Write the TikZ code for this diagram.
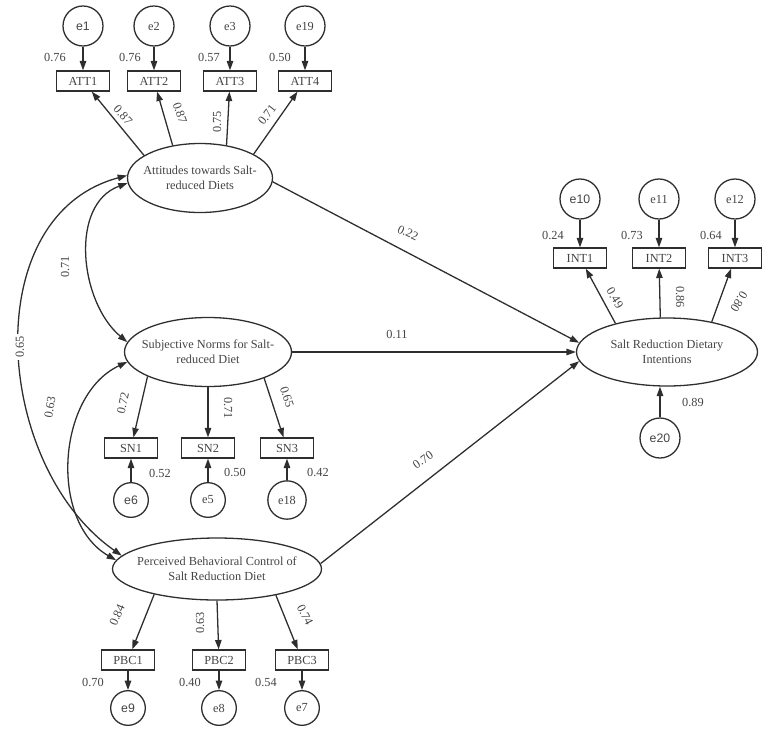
\documentclass[tikz,border=0pt]{standalone}
\usepackage{fontspec}
\setmainfont{Liberation Serif}
\newfontfamily\arialfont{Liberation Sans}
\usetikzlibrary{shapes.geometric,arrows.meta}
\definecolor{linegray}{HTML}{2E2E2E}
\definecolor{txtgray}{HTML}{444444}

\begin{document}
\begin{tikzpicture}[x=0.03cm, y=-0.03cm, line width=1.1pt, color=linegray, text=txtgray,
                    font=\fontsize{10.5}{12.5}\selectfont]
  \tikzset{
    latent/.style={ellipse, draw, inner sep=0pt},
    lat text/.style={align=center, text=txtgray},
    observed/.style={rectangle, draw, minimum width=1.59cm, minimum height=0.6cm, inner sep=0pt},
    error/.style={circle, draw, minimum size=1.2cm, inner sep=0pt},
    small error/.style={error, minimum size=1.04cm},
    sans/.style={font=\fontsize{10.5}{12.5}\arialfont},
    path/.style={-{Triangle[length=8pt,width=5.5pt]}},
    cov/.style={{Triangle[length=8pt,width=5.5pt]}-{Triangle[length=8pt,width=5.5pt]}},
    coef/.style={inner sep=1pt}
  }
  \useasboundingbox (0,0) rectangle (767,730);

  % Latent variables
  \node[latent, minimum width=4.35cm, minimum height=2.07cm,
        label={[lat text]center:Attitudes towards Salt-\\reduced Diets}] (ATT) at (200,178) {};
  \node[latent, minimum width=5.01cm, minimum height=2.07cm,
        label={[lat text]center:Subjective Norms for Salt-\\reduced Diet}] (SN) at (208,352) {};
  \node[latent, minimum width=6.27cm, minimum height=1.86cm,
        label={[lat text]center:Perceived Behavioral Control of\\Salt Reduction Diet}] (PBC) at (217,569) {};
  \node[latent, minimum width=5.43cm, minimum height=2.04cm,
        label={[lat text]center:Salt Reduction Dietary\\Intentions}] (INT) at (667,352) {};

  % Indicators
  \node[observed] (ATT1) at (83,81) {ATT1};
  \node[observed] (ATT2) at (154,81) {ATT2};
  \node[observed] (ATT3) at (230,81) {ATT3};
  \node[observed] (ATT4) at (305,81) {ATT4};
  \node[observed] (INT1) at (580,258) {INT1};
  \node[observed] (INT2) at (659,258) {INT2};
  \node[observed] (INT3) at (735,258) {INT3};
  \node[observed] (SN1) at (131,448) {SN1};
  \node[observed] (SN2) at (208,448) {SN2};
  \node[observed] (SN3) at (287,448) {SN3};
  \node[observed] (PBC1) at (128,660) {PBC1};
  \node[observed] (PBC2) at (219,660) {PBC2};
  \node[observed] (PBC3) at (302,660) {PBC3};

  % Error terms
  \node[error, sans] (e1) at (83,26) {e1};
  \node[error] (e2) at (154,26) {e2};
  \node[error] (e3) at (230,26) {e3};
  \node[error] (e19) at (305,26) {e19};
  \node[error, sans] (e10) at (580,199) {e10};
  \node[error] (e11) at (659,199) {e11};
  \node[error] (e12) at (735,199) {e12};
  \node[small error, sans] (e6) at (131,500) {e6};
  \node[small error] (e5) at (208,500) {e5};
  \node[small error, minimum size=1.15cm] (e18) at (287,500) {e18};
  \node[small error, sans] (e9) at (128,708) {e9};
  \node[small error] (e8) at (219,708) {e8};
  \node[small error] (e7) at (302,708) {e7};
  \node[error, sans] (e20) at (660,438) {e20};

  % Error arrows
  \foreach \e/\v in {e1/ATT1, e2/ATT2, e3/ATT3, e19/ATT4, e10/INT1, e11/INT2, e12/INT3,
                     e6/SN1, e5/SN2, e18/SN3}
    \draw[path] (\e) -- (\v);
  \draw[path] (e20) -- (e20 |- INT.south);
  \foreach \v/\e in {PBC1/e9, PBC2/e8, PBC3/e7}
    \draw[path] (\v) -- (\e);

  % Loadings
  \draw[path] (ATT.158) -- (ATT1);
  \draw[path] (ATT.130) -- (ATT2);
  \draw[path] (ATT.51) -- (ATT3);
  \draw[path] (ATT.24) -- (ATT4);
  \draw[path] (INT.151) -- (INT1);
  \draw[path] (INT.101) -- (INT2);
  \draw[path] (INT.34) -- (INT3);
  \draw[path] (SN.202) -- (SN1);
  \draw[path] (SN.270) -- (SN2);
  \draw[path] (SN.335) -- (SN3);
  \draw[path] (PBC.202) -- (PBC1);
  \draw[path] (PBC.270) -- (PBC2);
  \draw[path] (PBC.336) -- (PBC3);

  % Structural paths
  \draw[path] (ATT.-3) -- (INT.174);
  \draw[path] (SN.east) -- (INT.west);
  \draw[path] (PBC.3) -- (INT.186);

  % Covariances
  \draw[cov] (ATT.184) to[out=200, in=140, looseness=1] (SN.173);
  \draw[cov] (SN.187) to[out=205, in=150, looseness=1] (PBC.175);
  \draw[cov] (ATT.178) to[out=195, in=145, looseness=1.05]
    node[coef, pos=0.5, fill=white, rotate=90, inner sep=2pt] (c65) {0.65} (PBC.172);

  % Coefficients
  \foreach \x/\y/\r/\t [count=\i] in {
      55/57/0/0.76, 130/57/0/0.76, 209/57/0/0.57, 280/57/0/0.50,
      123/115/-48/0.87, 180/113/-71/0.87, 217/122/90/0.75, 267/115/52/0.71,
      553/235/0/0.24, 632/235/0/0.73, 711/235/0/0.64,
      615/298/-59/0.49, 680/297/-90/0.86, 739/302/-121/0.80, 693/402/0/0.89,
      123/403/78/0.72, 228/408/-90/0.71, 287/397/-72/0.65,
      160/473/0/0.52, 235/472/0/0.50, 318/472/0/0.42,
      117/615/66/0.84, 200/623/90/0.63, 305/615/-63/0.74,
      93/682/0/0.70, 190/682/0/0.40, 266/682/0/0.54,
      408/233/-25/0.22, 397/334/0/0.11, 423/460/35/0.70,
      65/267/90/0.71, 50/407/80/0.63}
    \node[coef, rotate=\r] (coef\i) at (\x,\y) {\t};

\end{tikzpicture}
\end{document}
